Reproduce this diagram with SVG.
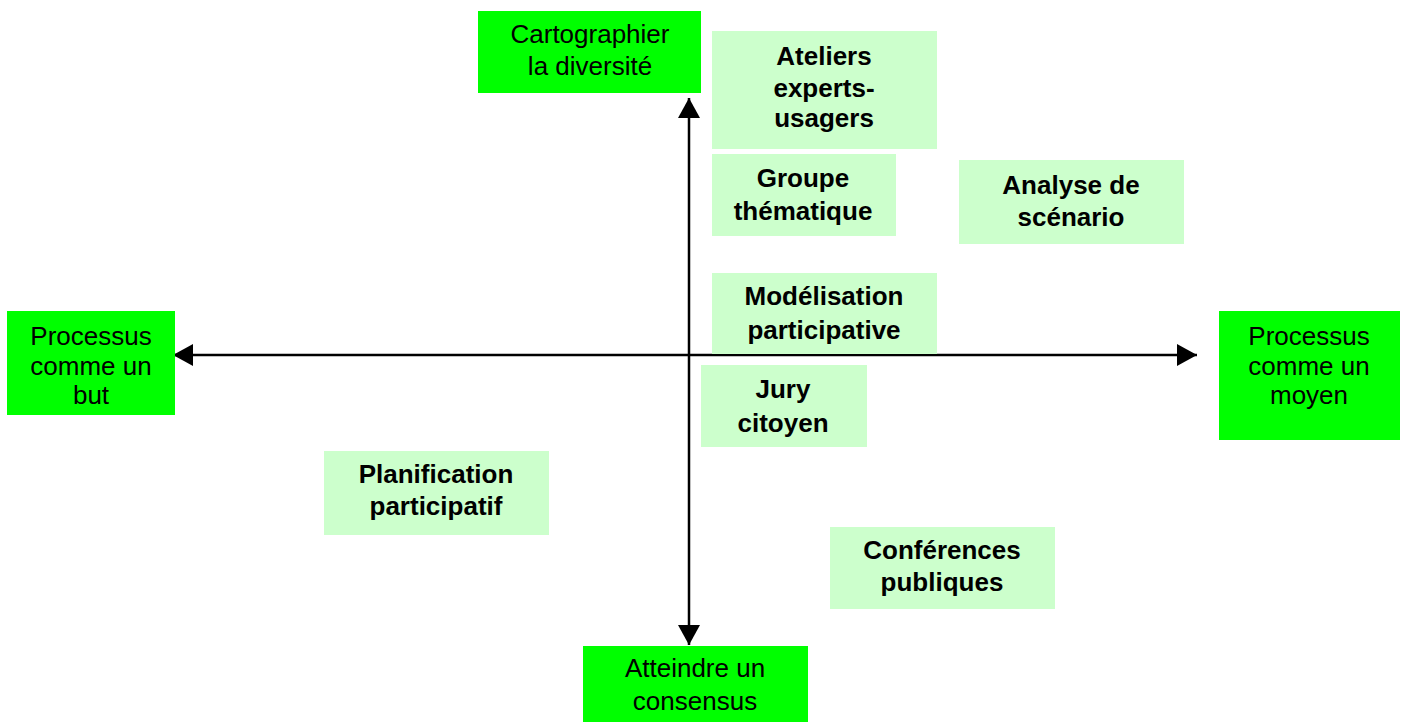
<svg xmlns="http://www.w3.org/2000/svg" width="1404" height="722" viewBox="0 0 1404 722">
<defs>
<style>
.pole{fill:#00FF00}
.tech{fill:#CCFFCC}
.pt{font-family:"Liberation Sans",Arial,sans-serif;font-size:26px;fill:#000;text-anchor:middle}
.tt{font-family:"Liberation Sans",Arial,sans-serif;font-size:26px;font-weight:bold;fill:#000;text-anchor:middle}
.axis{stroke:#000;stroke-width:2.5;fill:none}
</style>
<marker id="ah" markerUnits="userSpaceOnUse" markerWidth="22" markerHeight="22" viewBox="0 0 20 22" refX="20" refY="11" orient="auto-start-reverse">
<path d="M0,0 L20,11 L0,22 Z" fill="#000"/>
</marker>
</defs>
<rect width="1404" height="722" fill="#fff"/>
<g id="connectors">
<path class="axis" d="M173,355 L1197,355" marker-start="url(#ah)" marker-end="url(#ah)"/>
<path class="axis" d="M689,98 L689,645" marker-start="url(#ah)" marker-end="url(#ah)"/>
</g>
<g id="n-cartographier">
<rect class="pole" x="478" y="11" width="223" height="82"/>
<text class="pt" x="590" y="43">Cartographier</text>
<text class="pt" x="590" y="75">la diversité</text>
</g>
<g id="n-but">
<rect class="pole" x="7" y="311" width="168" height="104"/>
<text class="pt" x="91" y="345">Processus</text>
<text class="pt" x="91" y="375">comme un</text>
<text class="pt" x="91" y="404">but</text>
</g>
<g id="n-moyen">
<rect class="pole" x="1219" y="311" width="181" height="129"/>
<text class="pt" x="1309" y="345">Processus</text>
<text class="pt" x="1309" y="375">comme un</text>
<text class="pt" x="1309" y="404">moyen</text>
</g>
<g id="n-consensus">
<rect class="pole" x="583" y="646" width="225" height="76"/>
<text class="pt" x="695" y="677">Atteindre un</text>
<text class="pt" x="695" y="710">consensus</text>
</g>
<g id="n-ateliers">
<rect class="tech" x="712" y="31" width="225" height="118"/>
<text class="tt" x="824" y="65">Ateliers</text>
<text class="tt" x="824" y="97">experts-</text>
<text class="tt" x="824" y="127">usagers</text>
</g>
<g id="n-groupe">
<rect class="tech" x="712" y="154" width="184" height="82"/>
<text class="tt" x="803" y="187">Groupe</text>
<text class="tt" x="803" y="220">thématique</text>
</g>
<g id="n-analyse">
<rect class="tech" x="959" y="160" width="225" height="84"/>
<text class="tt" x="1071" y="194">Analyse de</text>
<text class="tt" x="1071" y="226">scénario</text>
</g>
<g id="n-modelisation">
<rect class="tech" x="712" y="273" width="225" height="81"/>
<text class="tt" x="824" y="305">Modélisation</text>
<text class="tt" x="824" y="339">participative</text>
</g>
<g id="n-jury">
<rect class="tech" x="701" y="365" width="166" height="82"/>
<text class="tt" x="783" y="398">Jury</text>
<text class="tt" x="783" y="432">citoyen</text>
</g>
<g id="n-planification">
<rect class="tech" x="324" y="451" width="225" height="84"/>
<text class="tt" x="436" y="483">Planification</text>
<text class="tt" x="436" y="515">participatif</text>
</g>
<g id="n-conferences">
<rect class="tech" x="830" y="527" width="225" height="82"/>
<text class="tt" x="942" y="559">Conférences</text>
<text class="tt" x="942" y="591">publiques</text>
</g>
</svg>
